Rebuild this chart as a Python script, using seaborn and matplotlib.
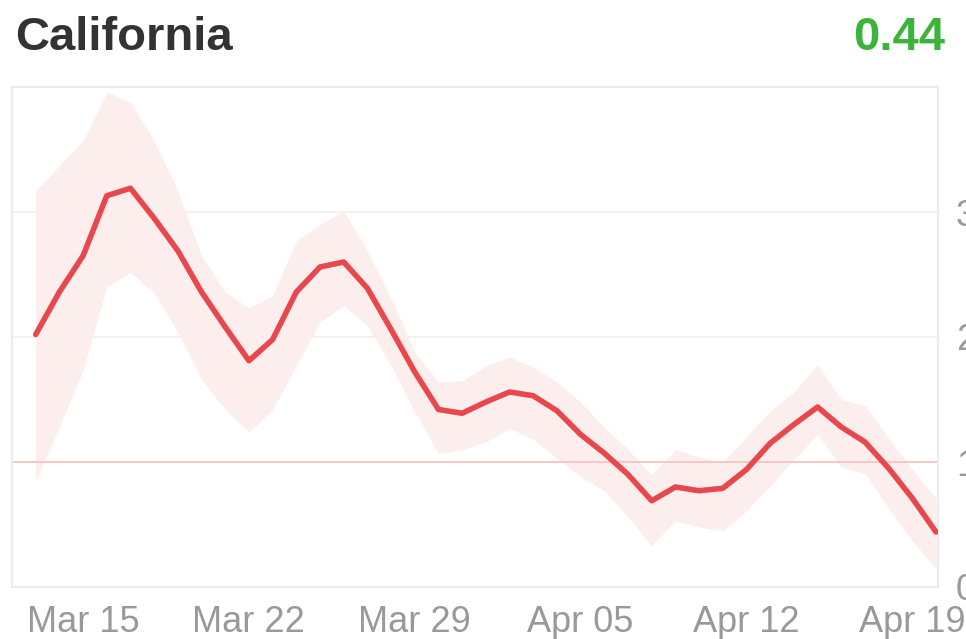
import matplotlib
matplotlib.use("Agg")
import matplotlib.pyplot as plt
import matplotlib.dates as mdates
import pandas as pd
import seaborn as sns

# data (Mar 13 .. Apr 20)
dates = pd.date_range("2020-03-13", "2020-04-20", freq="D")
rt_mean = [2.02, 2.36, 2.65, 3.13, 3.19, 2.95, 2.69, 2.36, 2.08, 1.81,
           1.98, 2.36, 2.56, 2.60, 2.39, 2.06, 1.72, 1.42, 1.39, 1.48,
           1.56, 1.53, 1.41, 1.22, 1.07, 0.90, 0.69, 0.80, 0.77, 0.79,
           0.94, 1.15, 1.30, 1.44, 1.28, 1.16, 0.95, 0.71, 0.44]
rt_upper = [3.17, 3.37, 3.57, 3.96, 3.88, 3.57, 3.17, 2.65, 2.36, 2.23,
            2.33, 2.77, 2.90, 3.01, 2.69, 2.31, 1.88, 1.64, 1.65, 1.77,
            1.84, 1.76, 1.64, 1.48, 1.28, 1.10, 0.90, 1.10, 1.04, 1.00,
            1.20, 1.41, 1.56, 1.78, 1.50, 1.45, 1.19, 0.94, 0.71]
rt_lower = [0.85, 1.28, 1.73, 2.40, 2.52, 2.35, 2.04, 1.66, 1.42, 1.24,
            1.42, 1.77, 2.12, 2.25, 2.09, 1.77, 1.40, 1.07, 1.10, 1.16,
            1.27, 1.18, 1.03, 0.88, 0.77, 0.56, 0.33, 0.53, 0.48, 0.45,
            0.61, 0.81, 1.02, 1.22, 0.96, 0.91, 0.63, 0.37, 0.15]
tick_dates = pd.to_datetime(["2020-03-15", "2020-03-22", "2020-03-29",
                             "2020-04-05", "2020-04-12", "2020-04-19"])
y_ticks = [0, 1, 2, 3]
title = "California"
latest = "0.44"

sns.set_theme(style="white")
plt.rcParams["font.family"] = ["Liberation Sans", "DejaVu Sans"]

fig = plt.figure(figsize=(9.66, 6.39), dpi=100)
ax = fig.add_axes([12 / 966, 52 / 639, 926 / 966, 500 / 639])

# credible interval band
ax.fill_between(dates, rt_lower, rt_upper, color="#fdeeee", lw=0, zorder=1)

# grid lines + reference line at 1
for yv in [2, 3]:
    ax.axhline(yv, color="#f0f0f0", lw=1.3, zorder=0)
ax.axhline(1, color="#f7c3c3", lw=1.3, zorder=2)

sns.lineplot(x=dates, y=rt_mean, ax=ax, color="#e8474c", linewidth=4,
             zorder=3, solid_joinstyle="round", solid_capstyle="round")

ax.set_xlim(pd.Timestamp("2020-03-12"), pd.Timestamp("2020-04-20 02:00"))
ax.set_ylim(0, 4)
ax.set_xticks(tick_dates)
ax.xaxis.set_major_formatter(mdates.DateFormatter("%b %d"))
ax.set_yticks(y_ticks)
ax.yaxis.tick_right()
ax.tick_params(axis="x", length=0, pad=13, labelsize=26, labelcolor="#999999")
ax.tick_params(axis="y", length=0, pad=13, labelsize=26, labelcolor="#999999")
ax.set_xlabel("")
ax.set_ylabel("")
ax.grid(False)
for sp in ax.spines.values():
    sp.set_color("#ebebeb")
    sp.set_linewidth(1.5)

fig.text(15 / 966, 1 - 50 / 639, title, fontsize=34, fontweight="bold",
         color="#333333", ha="left", va="baseline")
fig.text(945 / 966, 1 - 50 / 639, latest, fontsize=34, fontweight="bold",
         color="#3cb43c", ha="right", va="baseline")

fig.savefig("out.png", dpi=100)
